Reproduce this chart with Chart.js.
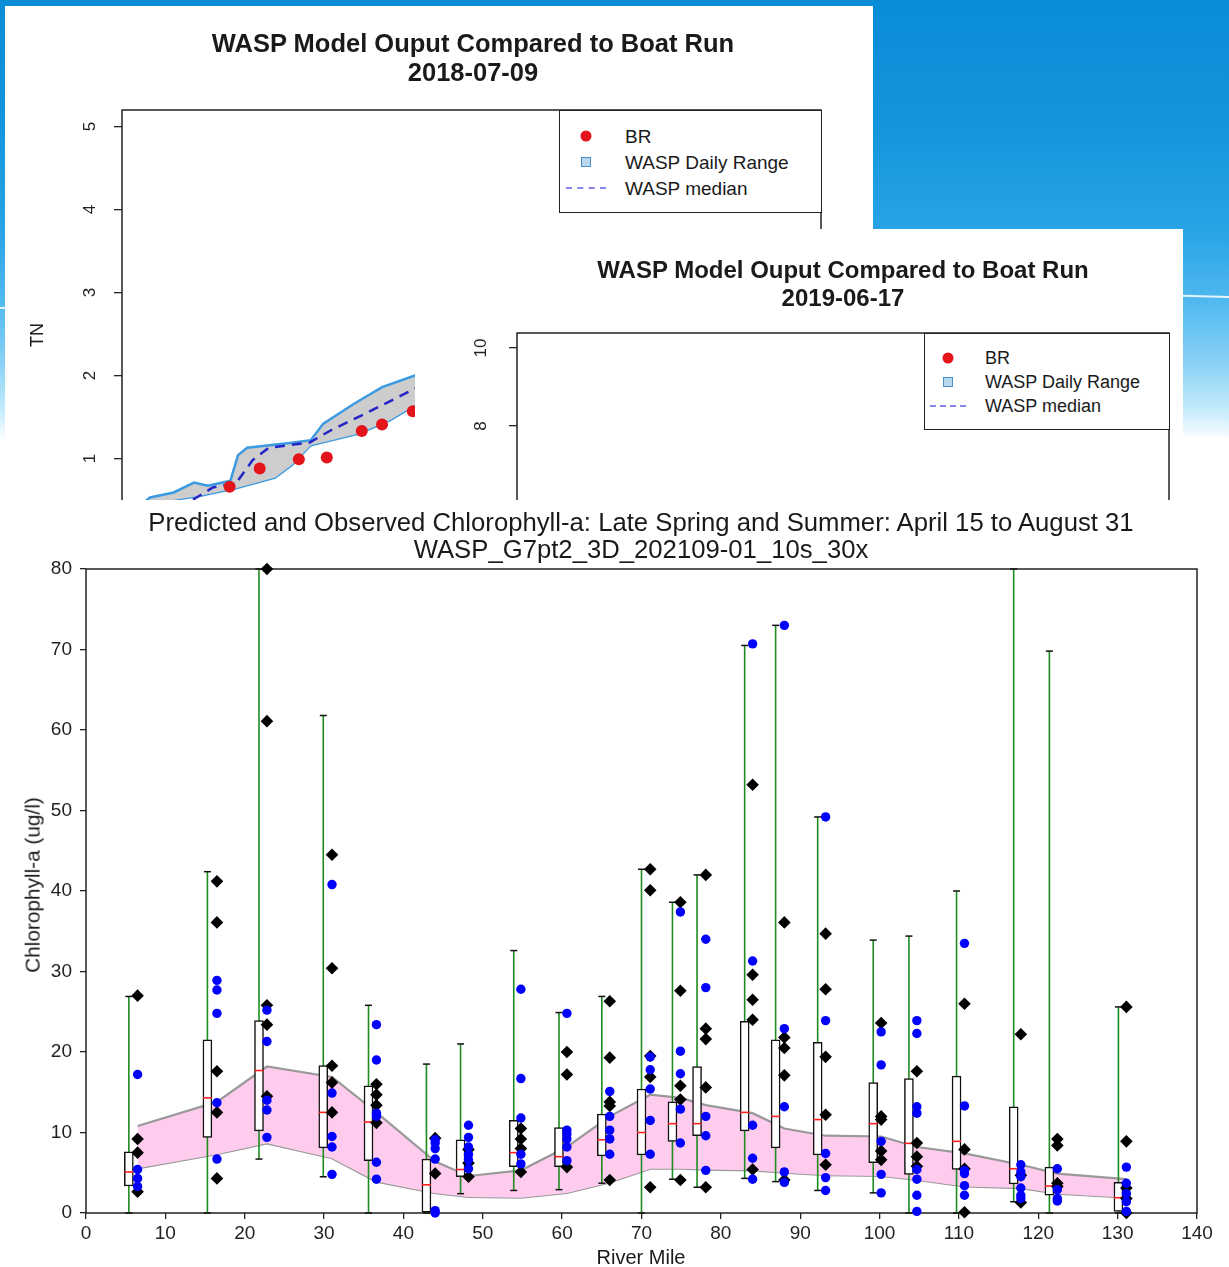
<!DOCTYPE html>
<html><head><meta charset="utf-8">
<script src="https://cdn.jsdelivr.net/npm/chart.js@4.4.1/dist/chart.umd.min.js"></script>
<style>
html,body{margin:0;padding:0;}
body{width:1229px;height:1267px;position:relative;overflow:hidden;background:#fff;font-family:"Liberation Sans",Arial,Helvetica,sans-serif;color:#1a1a1a;}
#bg{position:absolute;left:0;top:0;width:1229px;height:500px;
 background:linear-gradient(180deg,#0a8dd7 0px,#1295dc 120px,#28a3e6 230px,#4fb8ef 300px,#86d0f5 360px,#c4ebfb 410px,#ffffff 440px);}
#arc{position:absolute;left:0;top:0;}
.panel{position:absolute;background:#fff;overflow:hidden;}
.c{position:absolute;transform:translate(-50%,-50%);white-space:nowrap;line-height:1;}
.r{position:absolute;transform:translate(-50%,-50%) rotate(-90deg);white-space:nowrap;line-height:1;}
.l{position:absolute;transform:translateY(-50%);white-space:nowrap;line-height:1;}
.bold{font-weight:bold;}
.legend{position:absolute;border:1.5px solid #222;background:#fff;box-sizing:border-box;}
.dot{position:absolute;width:11px;height:11px;border-radius:50%;background:#e4141b;transform:translate(-50%,-50%);}
.sq{position:absolute;width:8px;height:8px;background:#b8d8ee;border:1px solid #4a8fc8;transform:translate(-50%,-50%);}
.dash{position:absolute;height:0;border-top:2px dashed #8585f0;transform:translateY(-50%);}
canvas{position:absolute;left:0;top:0;}
</style></head>
<body>
<div id="bg"></div>
<svg id="arc" width="1229" height="500"><path d="M0,308 Q600,278 1229,297" stroke="#ffffff" stroke-width="2" fill="none" opacity="0.85"/></svg>

<!-- Inset 1 -->
<div class="panel" id="p1" style="left:5px;top:6px;width:868px;height:494px;">
  <div style="position:absolute;left:0;top:0;width:868px;height:620px;"><canvas id="c1"></canvas></div>
  <div class="c bold" style="left:468px;top:38px;font-size:25.5px;">WASP Model Ouput Compared to Boat Run</div>
  <div class="c bold" style="left:468px;top:67px;font-size:25.5px;">2018-07-09</div>
  <div class="r" style="left:32px;top:329px;font-size:18px;">TN</div>
  <div class="legend" style="left:554px;top:104px;width:263px;height:103px;">
    <div class="dot" style="left:26px;top:25px;"></div>
    <div class="l" style="left:65px;top:25px;font-size:19px;">BR</div>
    <div class="sq" style="left:26px;top:51px;"></div>
    <div class="l" style="left:65px;top:51px;font-size:19px;">WASP Daily Range</div>
    <div class="dash" style="left:6px;top:77px;width:40px;"></div>
    <div class="l" style="left:65px;top:77px;font-size:19px;">WASP median</div>
  </div>
</div>

<!-- Inset 2 -->
<div class="panel" id="p2" style="left:415px;top:229px;width:768px;height:271px;">
  <div style="position:absolute;left:0;top:0;width:768px;height:560px;"><canvas id="c2"></canvas></div>
  <div class="c bold" style="left:428px;top:41px;font-size:24px;">WASP Model Ouput Compared to Boat Run</div>
  <div class="c bold" style="left:428px;top:69px;font-size:24px;">2019-06-17</div>
  <div class="legend" style="left:509px;top:104px;width:246px;height:97px;">
    <div class="dot" style="left:23px;top:24px;"></div>
    <div class="l" style="left:60px;top:24px;font-size:18px;">BR</div>
    <div class="sq" style="left:23px;top:48px;"></div>
    <div class="l" style="left:60px;top:48px;font-size:18px;">WASP Daily Range</div>
    <div class="dash" style="left:5px;top:72px;width:36px;"></div>
    <div class="l" style="left:60px;top:72px;font-size:18px;">WASP median</div>
  </div>
</div>

<!-- Main chart -->
<div style="position:absolute;left:0;top:500px;width:1229px;height:767px;"><canvas id="c3"></canvas></div>
<div class="c" style="left:641px;top:523px;font-size:25.7px;">Predicted and Observed Chlorophyll-a: Late Spring and Summer: April 15 to August 31</div>
<div class="c" style="left:641px;top:550px;font-size:25.7px;">WASP_G7pt2_3D_202109-01_10s_30x</div>
<div class="r" style="left:33px;top:885px;font-size:20.8px;">Chlorophyll-a (ug/l)</div>
<div class="c" style="left:641px;top:1257px;font-size:20px;">River Mile</div>

<script>
// ---------- Inset 1 data (2018-07-09) ----------
const TN_TICKS = [0, 1, 2, 3, 4, 5];
const BR_X = [15.4, 19.7, 25.3, 29.3, 34.3, 37.2, 41.6];
const BR_TN = [0.66, 0.88, 0.99, 1.01, 1.33, 1.41, 1.57];
const RANGE_UP_X = [2.6, 4.0, 7.4, 10.3, 12.3, 15.5, 16.6, 17.9, 24.3, 27.0, 28.8, 33.2, 37.2, 41.9, 44.1];
const RANGE_UP_TN = [0.43, 0.53, 0.59, 0.71, 0.67, 0.73, 1.04, 1.13, 1.19, 1.22, 1.42, 1.66, 1.86, 2.0, 2.06];
const RANGE_LO_X = [2.6, 6.6, 11.2, 16.3, 21.9, 24.3, 27.0, 33.9, 38.3, 41.9, 44.1];
const RANGE_LO_TN = [0.30, 0.49, 0.55, 0.64, 0.77, 0.92, 1.16, 1.30, 1.46, 1.64, 1.70];
const MED_X = [8.3, 9.9, 13.0, 16.3, 18.7, 21.0, 26.8, 29.9, 34.8, 41.9, 44.1];
const MED_TN = [0.37, 0.49, 0.65, 0.70, 0.98, 1.13, 1.19, 1.34, 1.54, 1.84, 1.90];

// ---------- Inset 2 ticks (2019-06-17) ----------
const TN2_TICKS = [0, 2, 4, 6, 8, 10];

// ---------- Main chart data ----------
const X_TICKS = [0,10,20,30,40,50,60,70,80,90,100,110,120,130,140];
const Y_TICKS = [0,10,20,30,40,50,60,70,80];
const MILE_BOX = [5.4, 15.3, 21.8, 29.9, 35.6, 42.9, 47.2, 53.9, 59.6, 65.0, 70.0, 73.9, 77.0, 83.0, 86.9, 92.2, 99.2, 103.7, 109.7, 116.9, 121.4, 130.1];
const MILE_OBS = [6.5, 16.5, 22.8, 31.0, 36.6, 44.0, 48.2, 54.8, 60.6, 66.0, 71.1, 74.9, 78.1, 84.0, 88.0, 93.2, 100.2, 104.7, 110.7, 117.8, 122.4, 131.1];
const WHISKER_LOW = [0, 0, 6.7, 4.5, 0, 0, 2.4, 2.8, 2.9, 3.7, 0, 4.2, 3.2, 4.3, 3.9, 2.8, 2.5, 0, 0, 1.4, 0, 0];
const WHISKER_HIGH = [26.9, 42.4, 80, 61.8, 25.8, 18.5, 21.0, 32.6, 24.9, 26.9, 42.7, 38.6, 42.0, 70.5, 73.0, 49.2, 33.9, 34.4, 40.0, 80, 69.8, 25.6];
const BOX_Q1 = [3.35, 9.4, 10.2, 8.1, 6.5, 0.1, 4.5, 5.75, 5.75, 7.1, 7.2, 8.9, 9.6, 10.2, 8.1, 7.2, 6.25, 4.8, 5.4, 3.6, 2.2, 0.2];
const BOX_Q3 = [7.6, 21.5, 23.9, 18.3, 15.8, 6.7, 9.1, 11.5, 10.6, 12.3, 15.4, 13.8, 18.2, 23.8, 21.5, 21.2, 16.2, 16.7, 17.0, 13.2, 5.7, 3.8];
const BOX_MEDIAN = [5.1, 14.3, 17.7, 12.5, 11.3, 3.5, 5.4, 7.5, 7.0, 9.1, 10.0, 11.1, 11.1, 12.5, 12.0, 11.6, 11.1, 8.65, 8.9, 5.5, 3.35, 1.9];
const BAND_UPPER = [10.8, 13.8, 18.2, 16.9, 12.5, 6.4, 4.6, 5.3, 8.2, 12.0, 14.7, 14.3, 13.4, 12.4, 10.5, 9.6, 9.5, 8.2, 7.4, 6.0, 4.9, 4.2];
const BAND_LOWER = [5.55, 7.3, 8.65, 6.8, 3.9, 2.45, 2.0, 1.9, 2.5, 3.8, 5.5, 5.5, 5.4, 5.3, 5.0, 4.7, 4.6, 4.1, 3.3, 3.1, 2.4, 1.9];
const OBS_DIAMOND = [
  [27.0, 9.2, 7.5, 2.65],
  [41.2, 36.1, 17.6, 12.5, 4.3],
  [80, 61.1, 25.8, 23.4, 14.5],
  [44.5, 30.4, 18.3, 16.2, 12.5],
  [16.0, 14.7, 13.4, 11.2],
  [9.3, 4.9],
  [7.9, 6.2, 4.5],
  [10.5, 9.2, 8.0, 5.1],
  [20.0, 17.2, 5.7],
  [26.3, 19.3, 13.8, 13.3, 4.1],
  [42.7, 40.1, 19.5, 16.9, 3.2],
  [38.6, 27.6, 15.8, 14.1, 4.1],
  [42.0, 22.9, 21.6, 15.6, 3.2],
  [53.2, 29.6, 26.5, 24.0, 5.4],
  [36.1, 21.8, 20.5, 17.1, 4.1],
  [34.7, 27.8, 19.4, 12.2, 6.0],
  [23.6, 12.0, 11.6, 7.7, 6.6],
  [17.6, 8.7, 7.0, 5.8],
  [26.0, 7.9, 5.5, 0.1],
  [22.2, 4.7, 1.3],
  [9.2, 8.4, 3.7, 3.3],
  [25.6, 8.9, 3.1, 1.8, 0]
];
const OBS_BLUE = [
  [17.2, 5.4, 4.3, 3.3],
  [28.9, 27.7, 24.8, 13.7, 6.7],
  [25.2, 21.3, 14.0, 12.8, 9.4],
  [40.8, 14.9, 9.5, 8.2, 4.8],
  [23.4, 19.0, 12.4, 12.0, 6.3, 4.2],
  [9.1, 8.7, 8.0, 6.7, 0.3, 0],
  [10.9, 9.4, 8.2, 7.3, 6.6, 5.5],
  [27.8, 16.7, 11.8, 7.3, 6.1],
  [24.8, 10.3, 9.8, 9.2, 8.2, 6.5],
  [15.1, 12.0, 10.3, 9.2, 7.3],
  [19.4, 17.8, 15.4, 11.5, 7.3],
  [37.4, 20.1, 17.3, 12.9, 8.7],
  [34.0, 28.0, 12.0, 9.6, 5.3],
  [70.7, 31.3, 10.9, 6.8, 4.2],
  [73.0, 22.9, 13.2, 5.1, 3.8],
  [49.2, 23.9, 7.4, 4.4, 2.8],
  [22.5, 18.4, 8.9, 4.8, 2.5],
  [23.9, 22.3, 13.2, 12.4, 5.4, 4.2, 2.2, 0.2],
  [33.5, 13.3, 5.3, 4.9, 3.4, 2.2],
  [6.0, 5.1, 4.5, 3.1, 2.2, 1.8],
  [5.5, 2.9, 1.8, 1.5],
  [5.7, 3.7, 2.4, 1.4, 0.2]
];

const FONT = '"Liberation Sans", Arial, sans-serif';
const zip = (xs, ys) => xs.map((x, i) => ({x: x, y: ys[i]}));

const framePlugin = {
  id: 'frame',
  beforeDatasetsDraw(chart, args, opts) {
    const a = chart.chartArea, c = chart.ctx;
    c.save(); c.strokeStyle = opts.color || '#222'; c.lineWidth = opts.width || 1.5;
    c.strokeRect(a.left, a.top, a.right - a.left, a.bottom - a.top); c.restore();
  }
};
const rotLabelsPlugin = {
  id: 'rotLabels',
  afterDraw(chart, args, opts) {
    if (!opts || opts.x === undefined) return;
    const s = chart.scales.y, c = chart.ctx;
    c.save(); c.fillStyle = '#222'; c.font = opts.font; c.textAlign = 'center'; c.textBaseline = 'middle';
    s.ticks.forEach(t => {
      const y = s.getPixelForValue(t.value);
      c.save(); c.translate(opts.x, y); c.rotate(-Math.PI / 2); c.fillText(String(t.value), 0, 0); c.restore();
    });
    c.restore();
  }
};

function insetOptions(ticks, ymin, ymax, yWidth, pad, labelX) {
  return {
    responsive: true, maintainAspectRatio: false, animation: false, events: [],
    layout: {padding: pad},
    plugins: {legend: {display: false}, tooltip: {enabled: false},
      frame: {color: '#222', width: 1.5},
      rotLabels: {x: labelX, font: '17px ' + FONT}},
    scales: {
      x: {type: 'linear', min: 0, max: 100, display: false},
      y: {type: 'linear', min: ymin, max: ymax,
        afterBuildTicks: s => { s.ticks = ticks.map(v => ({value: v})); },
        afterFit: s => { s.width = yWidth; },
        ticks: {color: 'rgba(0,0,0,0)', font: {size: 17, family: FONT}},
        grid: {drawOnChartArea: false, drawTicks: true, tickLength: 8, color: '#222', lineWidth: 1.3},
        border: {display: false}}
    }
  };
}

// Inset 1
new Chart(document.getElementById('c1'), {
  type: 'line',
  data: {datasets: [
    {label: 'BR', type: 'scatter', data: zip(BR_X, BR_TN), pointRadius: 6, pointBackgroundColor: '#e4141b', pointBorderWidth: 0, order: 0},
    {label: 'WASP median', data: zip(MED_X, MED_TN), borderColor: '#2424c8', borderDash: [10, 7], borderWidth: 2.5, pointRadius: 0, fill: false, order: 1},
    {label: 'WASP Daily Range', data: zip(RANGE_UP_X, RANGE_UP_TN), fill: '+1', backgroundColor: '#cdcdcd', borderColor: '#3c9be0', borderWidth: 2.5, pointRadius: 0, order: 3},
    {label: 'WASP Daily Range low', data: zip(RANGE_LO_X, RANGE_LO_TN), fill: false, borderColor: '#3c9be0', borderWidth: 2.5, pointRadius: 0, order: 3}
  ]},
  options: insetOptions(TN_TICKS, -0.2, 5.2, 117, {left: 0, top: 104, right: 52, bottom: 68}, 85),
  plugins: [framePlugin, rotLabelsPlugin]
});

// Inset 2
new Chart(document.getElementById('c2'), {
  type: 'line',
  data: {datasets: []},
  options: insetOptions(TN2_TICKS, -0.385, 10.385, 102, {left: 0, top: 104, right: 14, bottom: 36}, 66),
  plugins: [framePlugin, rotLabelsPlugin]
});

// Main chart
const whiskerData = [];
const capData = [];
MILE_BOX.forEach((m, i) => {
  whiskerData.push({x: m, y: WHISKER_LOW[i]}, {x: m, y: WHISKER_HIGH[i]}, {x: m, y: null});
  capData.push({x: m, y: WHISKER_LOW[i]}, {x: m, y: WHISKER_HIGH[i]});
});
const diamondData = OBS_DIAMOND.flatMap((arr, i) => arr.map(v => ({x: MILE_OBS[i], y: v})));
const blueData = OBS_BLUE.flatMap((arr, i) => arr.map(v => ({x: MILE_OBS[i], y: v})));

new Chart(document.getElementById('c3'), {
  type: 'scatter',
  data: {datasets: [
    {label: 'band upper', type: 'line', data: zip(MILE_OBS, BAND_UPPER), fill: '+1', backgroundColor: '#ffccee', borderColor: '#999999', borderWidth: 2.2, pointRadius: 0, order: 10},
    {label: 'band lower', type: 'line', data: zip(MILE_OBS, BAND_LOWER), fill: false, borderColor: '#999999', borderWidth: 2.2, pointRadius: 0, order: 10},
    {label: 'whiskers', type: 'line', data: whiskerData, borderColor: '#1e8c1e', borderWidth: 1.6, pointRadius: 0, spanGaps: false, fill: false, order: 8},
    {label: 'caps', type: 'scatter', data: capData, pointStyle: 'line', pointRadius: 3.5, pointBorderColor: '#111', pointBorderWidth: 1.5, order: 7, clip: false},
    {label: 'boxes', type: 'bar', data: MILE_BOX.map((m, i) => ({x: m, y: [BOX_Q1[i], BOX_Q3[i]]})), backgroundColor: '#ffffff', borderColor: '#111', borderWidth: 1.5, borderSkipped: false, barThickness: 9, grouped: false, order: 6},
    {label: 'median', type: 'scatter', data: zip(MILE_BOX, BOX_MEDIAN), pointStyle: 'line', pointRadius: 4.5, pointBorderColor: '#ff2020', pointBorderWidth: 1.6, order: 5},
    {label: 'observed', type: 'scatter', data: diamondData, pointStyle: 'rectRot', pointRadius: 6.3, pointBackgroundColor: '#000', pointBorderColor: '#000', pointBorderWidth: 0, order: 2, clip: false},
    {label: 'model', type: 'scatter', data: blueData, pointStyle: 'circle', pointRadius: 4.7, pointBackgroundColor: '#0000ff', pointBorderWidth: 0, order: 1, clip: false}
  ]},
  options: {
    responsive: true, maintainAspectRatio: false, animation: false, events: [],
    layout: {padding: {left: 0, top: 69, right: 32, bottom: 0}},
    plugins: {legend: {display: false}, tooltip: {enabled: false}, frame: {color: '#222', width: 1.5}},
    scales: {
      x: {type: 'linear', min: 0, max: 140, offset: false,
        afterBuildTicks: s => { s.ticks = X_TICKS.map(v => ({value: v})); },
        afterFit: s => { s.height = 54; },
        ticks: {color: '#222', font: {size: 19, family: FONT}, padding: 3, maxRotation: 0, autoSkip: false},
        grid: {drawOnChartArea: false, drawTicks: true, tickLength: 6, color: '#222', lineWidth: 1.3, offset: false},
        border: {display: false}},
      y: {type: 'linear', min: 0, max: 80,
        afterBuildTicks: s => { s.ticks = Y_TICKS.map(v => ({value: v})); },
        afterFit: s => { s.width = 86; },
        ticks: {color: '#222', font: {size: 19, family: FONT}, padding: 8},
        grid: {drawOnChartArea: false, drawTicks: true, tickLength: 6, color: '#222', lineWidth: 1.3},
        border: {display: false}}
    }
  },
  plugins: [framePlugin]
});
</script>
</body></html>
